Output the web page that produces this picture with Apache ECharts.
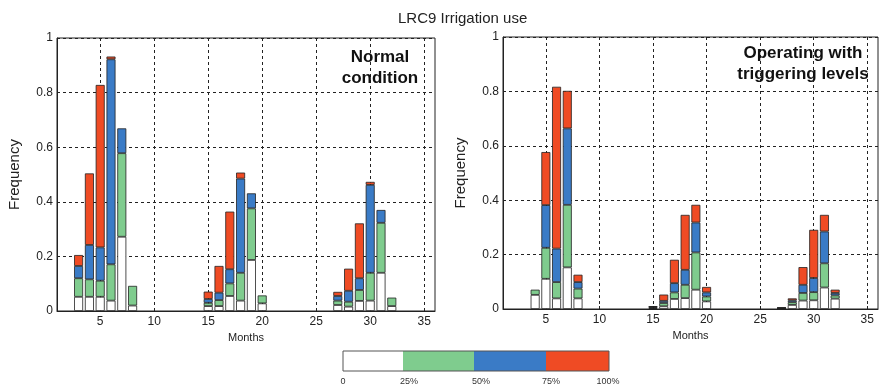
<!DOCTYPE html>
<html>
<head>
<meta charset="utf-8">
<script src="https://cdn.jsdelivr.net/npm/echarts@6/dist/echarts.min.js"></script>
<style>
  html, body { margin: 0; padding: 0; background: #fff; }
  #chart { width: 880px; height: 386px; }
</style>
</head>
<body>
<div id="chart"></div>
<script>
// month axis runs 1..36, labelled every 5
const allMonths = Array.from({ length: 36 }, (_, i) => String(i + 1));
const monthTicks = [5, 10, 15, 20, 25, 30, 35];
const legendLabels = ['0', '25%', '50%', '75%', '100%'];

// left panel: normal condition (segment heights, bottom to top)
const normalMonths = [3, 4, 5, 6, 7, 8, 15, 16, 17, 18, 19, 20, 27, 28, 29, 30, 31, 32];
const normalQ1 = [0.052, 0.052, 0.052, 0.038, 0.272, 0.020, 0.018, 0.018, 0.055, 0.038, 0.187, 0.028, 0.022, 0.016, 0.037, 0.038, 0.140, 0.018];
const normalQ2 = [0.068, 0.064, 0.059, 0.133, 0.306, 0.072, 0.012, 0.022, 0.046, 0.102, 0.189, 0.029, 0.016, 0.018, 0.040, 0.102, 0.183, 0.031];
const normalQ3 = [0.045, 0.126, 0.122, 0.751, 0.091, 0, 0.014, 0.027, 0.052, 0.345, 0.055, 0, 0.017, 0.040, 0.043, 0.322, 0.047, 0];
const normalQ4 = [0.040, 0.262, 0.595, 0.010, 0, 0, 0.027, 0.098, 0.211, 0.022, 0, 0, 0.015, 0.081, 0.201, 0.011, 0, 0];

// right panel: operating with triggering levels
const trigMonths = [4, 5, 6, 7, 8, 15, 16, 17, 18, 19, 20, 27, 28, 29, 30, 31, 32];
const trigQ1 = [0.052, 0.111, 0.039, 0.153, 0.039, 0.003, 0.010, 0.037, 0.040, 0.071, 0.028, 0.002, 0.015, 0.031, 0.032, 0.079, 0.038];
const trigQ2 = [0.019, 0.114, 0.060, 0.230, 0.036, 0.003, 0.012, 0.024, 0.049, 0.137, 0.018, 0.001, 0.010, 0.028, 0.030, 0.089, 0.012];
const trigQ3 = [0, 0.157, 0.123, 0.281, 0.024, 0.002, 0.008, 0.034, 0.055, 0.110, 0.015, 0.001, 0.007, 0.030, 0.052, 0.117, 0.009];
const trigQ4 = [0, 0.195, 0.595, 0.138, 0.027, 0.002, 0.023, 0.086, 0.202, 0.065, 0.020, 0.001, 0.007, 0.065, 0.177, 0.061, 0.012];

const colors = ['#ffffff', '#7fcc8e', '#3a7bc6', '#ef4b24'];
const font = 'Liberation Sans';

const chart = echarts.init(document.getElementById('chart'));

const dashed = { color: '#222', width: 1, type: [3, 3] };
const isTick = (idx, value) => monthTicks.includes(Number(value));

function xAxisFor(gridIndex) {
  return {
    type: 'category', gridIndex: gridIndex, data: allMonths, boundaryGap: false,
    name: 'Months', nameLocation: 'middle', nameGap: 21,
    nameTextStyle: { fontFamily: font, fontSize: 11, color: '#222' },
    axisLine: { show: true, lineStyle: { color: '#222' } },
    axisTick: { show: true, inside: true, length: 3, interval: isTick, lineStyle: { color: '#222' } },
    axisLabel: { interval: isTick, fontFamily: font, fontSize: 12, color: '#222', margin: 5 },
    splitLine: { show: true, interval: isTick, lineStyle: dashed }
  };
}

function yAxisFor(gridIndex) {
  return {
    type: 'value', gridIndex: gridIndex, min: 0, max: 1, interval: 0.2,
    name: 'Frequency', nameLocation: 'middle', nameGap: 35, nameRotate: 90,
    nameTextStyle: { fontFamily: font, fontSize: 15, color: '#222' },
    axisLine: { show: true, lineStyle: { color: '#222' } },
    axisTick: { show: true, inside: true, length: 3, lineStyle: { color: '#222' } },
    axisLabel: { fontFamily: font, fontSize: 12, color: '#222', margin: 4 },
    splitLine: { show: true, lineStyle: dashed }
  };
}

function barSeries(gridIndex, months, parts) {
  return parts.map((vals, i) => ({
    type: 'bar', xAxisIndex: gridIndex, yAxisIndex: gridIndex,
    stack: 'g' + gridIndex, barWidth: 9,
    itemStyle: { color: colors[i], borderColor: '#222', borderWidth: 0.8 },
    data: months.map((m, k) => [String(m), vals[k] || '-'])
  }));
}

// colour bar legend
const edges = [343, 403, 474, 546, 609];
const labelX = [343, 409, 481, 551, 608];
const barTop = 351, barH = 20;
const legendGraphics = [];
for (let i = 0; i < 4; i++) {
  legendGraphics.push({
    type: 'rect',
    shape: { x: edges[i], y: barTop, width: edges[i + 1] - edges[i], height: barH },
    style: { fill: colors[i], stroke: 'none' }
  });
}
legendGraphics.push({
  type: 'rect', shape: { x: edges[0], y: barTop, width: edges[4] - edges[0], height: barH },
  style: { fill: 'none', stroke: '#555', lineWidth: 1 }
});
legendLabels.forEach((t, i) => {
  legendGraphics.push({
    type: 'text', x: labelX[i], y: 377,
    style: { text: t, fontFamily: font, fontSize: 9, fill: '#333', align: 'center' }
  });
});

chart.setOption({
  animation: false,
  title: {
    text: 'LRC9 Irrigation use', left: 393, top: 6,
    textStyle: { fontFamily: font, fontSize: 15, fontWeight: 'normal', color: '#222' }
  },
  grid: [
    { left: 57, top: 38, width: 378, height: 273, show: true, borderColor: '#222', borderWidth: 1, backgroundColor: 'transparent' },
    { left: 503, top: 37, width: 375, height: 272, show: true, borderColor: '#222', borderWidth: 1, backgroundColor: 'transparent' }
  ],
  xAxis: [xAxisFor(0), xAxisFor(1)],
  yAxis: [yAxisFor(0), yAxisFor(1)],
  series: [
    ...barSeries(0, normalMonths, [normalQ1, normalQ2, normalQ3, normalQ4]),
    ...barSeries(1, trigMonths, [trigQ1, trigQ2, trigQ3, trigQ4])
  ],
  graphic: [
    {
      type: 'text', x: 380, y: 47, z: 10,
      style: { text: 'Normal\ncondition', fontFamily: font, fontSize: 17, fontWeight: 'bold', fill: '#111', align: 'center', lineHeight: 21 }
    },
    {
      type: 'text', x: 803, y: 43, z: 10,
      style: { text: 'Operating with\ntriggering levels', fontFamily: font, fontSize: 17, fontWeight: 'bold', fill: '#111', align: 'center', lineHeight: 21 }
    },
    ...legendGraphics
  ]
});
</script>
</body>
</html>
